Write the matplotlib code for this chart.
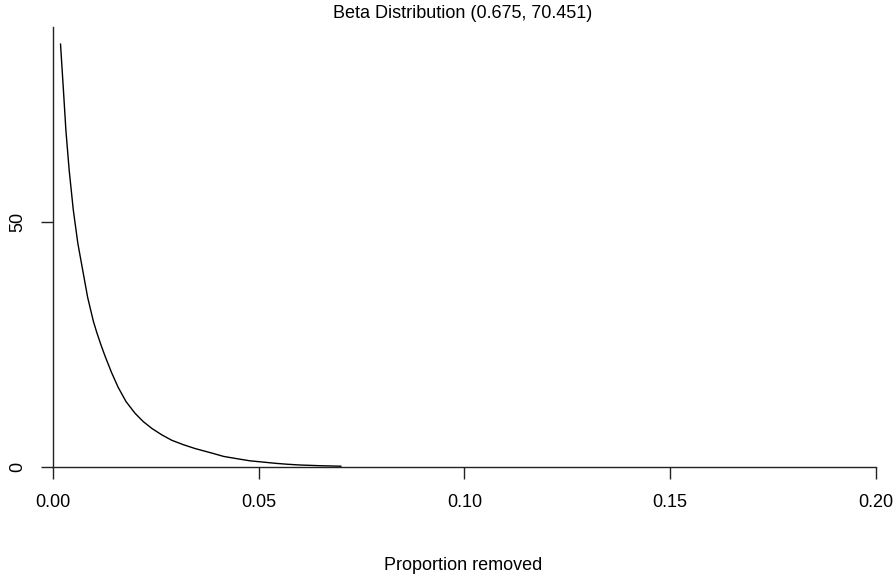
import matplotlib
matplotlib.use("Agg")
import matplotlib.pyplot as plt

# density curve points
prop = [0.0019, 0.0026, 0.0032, 0.0040, 0.0050, 0.0061, 0.0072, 0.0085,
        0.0099, 0.0107, 0.0117, 0.0127, 0.0143, 0.0159, 0.0178, 0.0200,
        0.0220, 0.0241, 0.0265, 0.0289, 0.0317, 0.0346, 0.0390, 0.0415,
        0.0450, 0.0479, 0.0510, 0.0540, 0.0570, 0.0600, 0.0650, 0.0700]
dens = [86.2, 76.9, 68.7, 60.5, 52.4, 45.6, 40.5, 34.5,
        29.6, 27.4, 24.9, 22.6, 19.2, 16.2, 13.3, 10.9,
        9.2, 7.8, 6.5, 5.4, 4.5, 3.7, 2.7, 2.1,
        1.6, 1.2, 0.95, 0.7, 0.5, 0.35, 0.2, 0.1]

xticks = [0.0, 0.05, 0.10, 0.15, 0.20]
xlabels = ["0.00", "0.05", "0.10", "0.15", "0.20"]
yticks = [0, 50]
ylabels = ["0", "50"]

plt.rcParams['font.family'] = ['Liberation Sans', 'DejaVu Sans']

fig = plt.figure(figsize=(8.95, 5.79), dpi=100)
W, H = 895, 579
x0, x1 = 52.7, 876.0
y0, y1 = 466.7, 27.0
ax = fig.add_axes([x0 / W, 1 - y0 / H, (x1 - x0) / W, (y0 - y1) / H])

ax.plot(prop, dens, color="black", lw=1.0)
ax.set_xlim(0, 0.2)
ax.set_ylim(0, 89.7)

for s in ["top", "right"]:
    ax.spines[s].set_visible(False)
for s in ["left", "bottom"]:
    ax.spines[s].set_color("#222222")
    ax.spines[s].set_linewidth(1.0)

ax.set_xticks(xticks)
ax.set_xticklabels(xlabels)
ax.set_yticks(yticks)
ax.set_yticklabels(ylabels, rotation=90, va="center")
ax.tick_params(axis="both", length=8.6, width=1.0, color="#222222",
               labelsize=13, direction="out")
ax.tick_params(axis="x", pad=11)
ax.tick_params(axis="y", pad=10.5)

fig.text(463 / W, 1 - 14 / H, "Beta Distribution (0.675, 70.451)",
         ha="center", va="center", fontsize=13)
fig.text(463 / W, 1 - 565 / H, "Proportion removed",
         ha="center", va="center", fontsize=13)

fig.savefig("out.png", dpi=100)
